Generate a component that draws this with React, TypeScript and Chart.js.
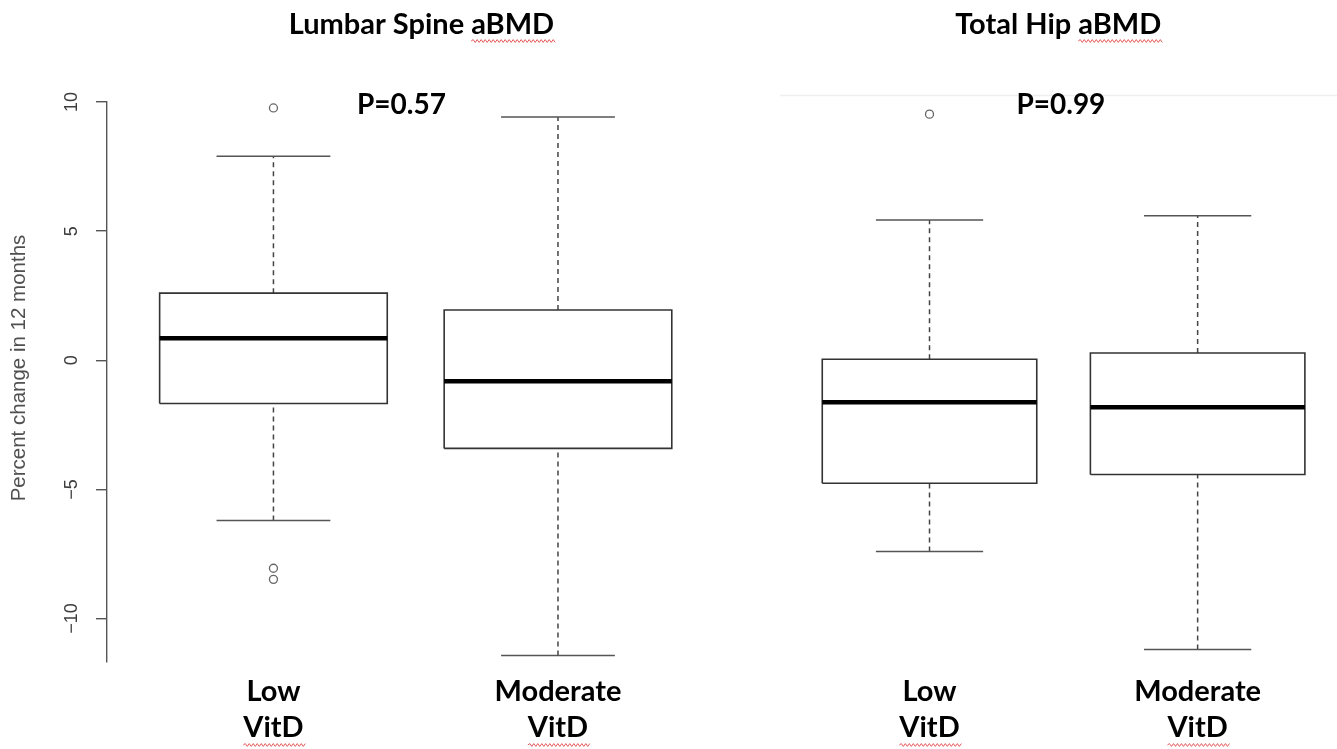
import React, { useEffect, useRef } from 'react';
import { Chart, registerables } from 'chart.js';

Chart.register(...registerables);

// ---------- data ----------
const groupLabels = [['Low', 'VitD'], ['Moderate', 'VitD']];
const groupPositions = [1, 2];
const yTickValues = [-10, -5, 0, 5, 10];
const panelTitles = ['Lumbar Spine aBMD', 'Total Hip aBMD'];
const pValueLabels = ['P=0.57', 'P=0.99'];
const yAxisTitle = 'Percent change in 12 months';

// Lumbar spine (Low VitD, Moderate VitD)
const lumbarLowerWhisker = [-6.2, -11.43];
const lumbarQ1 = [-1.67, -3.41];
const lumbarMedian = [0.85, -0.81];
const lumbarQ3 = [2.6, 1.95];
const lumbarUpperWhisker = [7.9, 9.42];
const lumbarOutliers = [[9.77, -8.05, -8.48], []];

// Total hip (Low VitD, Moderate VitD)
const hipLowerWhisker = [-7.4, -11.2];
const hipQ1 = [-4.76, -4.42];
const hipMedian = [-1.62, -1.82];
const hipQ3 = [0.04, 0.28];
const hipUpperWhisker = [5.43, 5.6];
const hipOutliers = [[9.53], []];

// ---------- styles / layout ----------
const BOX_HALF = 0.4;
const CAP_HALF = 0.2;
const LABEL_FONT = { family: 'Lato', weight: 'bold' as const, size: 29, lineHeight: 1.24 };

type PanelCfg = {
  title: string;
  pLabel: string;
  lo: number[];
  q1: number[];
  med: number[];
  q3: number[];
  hi: number[];
  outliers: number[][];
  showYAxis: boolean;
  padLeft: number;
  padRight: number;
  xMin: number;
  xMax: number;
  titleX: number;
  pX: number;
  faintLine: boolean;
};

const panels: PanelCfg[] = [
  {
    title: panelTitles[0], pLabel: pValueLabels[0],
    lo: lumbarLowerWhisker, q1: lumbarQ1, med: lumbarMedian, q3: lumbarQ3, hi: lumbarUpperWhisker,
    outliers: lumbarOutliers, showYAxis: true, padLeft: 0, padRight: 17,
    xMin: 0.415, xMax: 2.58, titleX: 1.52, pX: 1.45, faintLine: false,
  },
  {
    title: panelTitles[1], pLabel: pValueLabels[1],
    lo: hipLowerWhisker, q1: hipQ1, med: hipMedian, q3: hipQ3, hi: hipUpperWhisker,
    outliers: hipOutliers, showYAxis: false, padLeft: 34, padRight: 0,
    xMin: 0.42, xMax: 2.5, titleX: 1.48, pX: 1.49, faintLine: true,
  },
];

function squiggle(ctx: CanvasRenderingContext2D, x0: number, x1: number, y: number) {
  ctx.save();
  ctx.beginPath();
  ctx.strokeStyle = 'rgba(226,60,60,0.85)';
  ctx.lineWidth = 1;
  ctx.moveTo(x0, y);
  let up = true;
  for (let x = x0; x < x1; x += 2) {
    ctx.lineTo(x + 2, up ? y - 1.4 : y + 1.4);
    up = !up;
  }
  ctx.stroke();
  ctx.restore();
}

function buildDatasets(p: PanelCfg) {
  const ds: any[] = [];
  const seg = (pts: { x: number; y: number }[], extra: any) =>
    ds.push({
      type: 'line',
      data: pts,
      borderColor: '#3a3a3a',
      borderWidth: 1.5,
      pointRadius: 0,
      fill: false,
      tension: 0,
      ...extra,
    });
  groupPositions.forEach((x, i) => {
    // median
    seg([{ x: x - BOX_HALF, y: p.med[i] }, { x: x + BOX_HALF, y: p.med[i] }], { borderColor: '#000', borderWidth: 4.5 });
    // box
    seg(
      [
        { x: x - BOX_HALF, y: p.q1[i] },
        { x: x + BOX_HALF, y: p.q1[i] },
        { x: x + BOX_HALF, y: p.q3[i] },
        { x: x - BOX_HALF, y: p.q3[i] },
        { x: x - BOX_HALF, y: p.q1[i] },
      ],
      { borderColor: '#333', borderWidth: 1.6 }
    );
    // caps
    seg([{ x: x - CAP_HALF, y: p.hi[i] }, { x: x + CAP_HALF, y: p.hi[i] }], { borderColor: '#555' });
    seg([{ x: x - CAP_HALF, y: p.lo[i] }, { x: x + CAP_HALF, y: p.lo[i] }], { borderColor: '#555' });
    // whiskers
    seg([{ x, y: p.q3[i] }, { x, y: p.hi[i] }], { borderDash: [5, 4], borderColor: '#444', borderWidth: 1.5 });
    seg([{ x, y: p.lo[i] }, { x, y: p.q1[i] }], { borderDash: [5, 4], borderColor: '#444', borderWidth: 1.5 });
  });
  const outPts: { x: number; y: number }[] = [];
  groupPositions.forEach((x, i) => p.outliers[i].forEach((y) => outPts.push({ x, y })));
  ds.push({
    type: 'scatter',
    data: outPts,
    pointStyle: 'circle',
    pointRadius: 4,
    borderColor: '#666',
    borderWidth: 1.3,
    backgroundColor: 'rgba(0,0,0,0)',
  });
  return ds;
}

function makePlugin(p: PanelCfg) {
  return {
    id: 'panelText',
    beforeDraw(chart: any) {
      const { ctx, width, height } = chart;
      ctx.save();
      ctx.fillStyle = '#fff';
      ctx.fillRect(0, 0, width, height);
      if (p.faintLine) {
        ctx.strokeStyle = '#efefef';
        ctx.lineWidth = 1.5;
        ctx.beginPath();
        ctx.moveTo(40, 95.5);
        ctx.lineTo(width, 95.5);
        ctx.stroke();
      }
      ctx.restore();
    },
    afterDraw(chart: any) {
      const { ctx } = chart;
      const xs = chart.scales.x;
      const ys = chart.scales.y;
      ctx.save();
      // panel title
      ctx.fillStyle = '#000';
      ctx.textAlign = 'center';
      ctx.textBaseline = 'middle';
      ctx.font = 'bold 29px Lato';
      const tx = xs.getPixelForValue(p.titleX);
      ctx.fillText(p.title, tx, 25);
      const full = ctx.measureText(p.title).width;
      const idx = p.title.lastIndexOf('aBMD');
      const pre = ctx.measureText(p.title.slice(0, idx)).width;
      const w = ctx.measureText('aBMD').width;
      squiggle(ctx, tx - full / 2 + pre, tx - full / 2 + pre + w, 41);
      // p value
      ctx.font = 'bold 28px Lato';
      ctx.fillText(p.pLabel, xs.getPixelForValue(p.pX), ys.getPixelForValue(9.88));
      // squiggles under "VitD"
      ctx.font = 'bold 29px Lato';
      const vw = ctx.measureText('VitD').width;
      groupPositions.forEach((v) => {
        const cx = xs.getPixelForValue(v);
        squiggle(ctx, cx - vw / 2, cx + vw / 2, xs.top + 83);
      });
      if (p.showYAxis) {
        ctx.fillStyle = '#3c3c3c';
        ctx.font = '18px "Liberation Sans", Arial, sans-serif';
        yTickValues.forEach((v) => {
          const y = ys.getPixelForValue(v);
          ctx.save();
          ctx.translate(72, y);
          ctx.rotate(-Math.PI / 2);
          ctx.fillText(v < 0 ? '\u2212' + Math.abs(v) : String(v), 0, 0);
          ctx.restore();
        });
        ctx.fillStyle = '#505050';
        ctx.font = '20.5px "Liberation Sans", Arial, sans-serif';
        ctx.save();
        ctx.translate(19, 368);
        ctx.rotate(-Math.PI / 2);
        ctx.fillText(yAxisTitle, 0, 0);
        ctx.restore();
      }
      ctx.restore();
    },
  };
}

function buildConfig(p: PanelCfg): any {
  return {
    type: 'line',
    data: { datasets: buildDatasets(p) },
    plugins: [makePlugin(p)],
    options: {
      responsive: false,
      animation: false,
      events: [],
      layout: { padding: { top: 102, right: p.padRight, left: p.padLeft, bottom: 0 } },
      plugins: { legend: { display: false }, tooltip: { enabled: false }, title: { display: false } },
      scales: {
        x: {
          type: 'linear',
          min: p.xMin,
          max: p.xMax,
          afterBuildTicks: (s: any) => {
            s.ticks = groupPositions.map((v) => ({ value: v }));
          },
          afterFit: (s: any) => {
            s.height = 87;
          },
          ticks: {
            callback: (_v: any, i: number) => groupLabels[i],
            font: LABEL_FONT,
            color: '#000',
            padding: 12,
            autoSkip: false,
            maxRotation: 0,
            minRotation: 0,
          },
          grid: { display: false, drawTicks: false },
          border: { display: false },
        },
        y: {
          type: 'linear',
          display: p.showYAxis,
          min: -11.68,
          max: 10,
          afterBuildTicks: (s: any) => {
            s.ticks = yTickValues.map((v) => ({ value: v }));
          },
          afterFit: (s: any) => {
            s.width = p.showYAxis ? 107 : 0;
          },
          ticks: { display: false },
          grid: { drawOnChartArea: false, drawTicks: true, tickLength: 11, color: '#555', lineWidth: 1.4 },
          border: { display: true, color: '#555', width: 1.4 },
        },
      },
    },
  };
}

function Panel({ cfg, left, width }: { cfg: PanelCfg; left: number; width: number }) {
  const ref = useRef<HTMLCanvasElement>(null);
  useEffect(() => {
    const chart = new Chart(ref.current as HTMLCanvasElement, buildConfig(cfg));
    return () => chart.destroy();
  }, [cfg]);
  return (
    <canvas
      ref={ref}
      width={width}
      height={749}
      style={{ position: 'absolute', left, top: 0, width, height: 749, display: 'block' }}
    />
  );
}

export default function App() {
  return (
    <div style={{ position: 'absolute', left: 0, top: 0, width: 1337, height: 749, background: '#fff', overflow: 'hidden' }}>
      <Panel cfg={panels[0]} left={0} width={740} />
      <Panel cfg={panels[1]} left={740} width={597} />
    </div>
  );
}
